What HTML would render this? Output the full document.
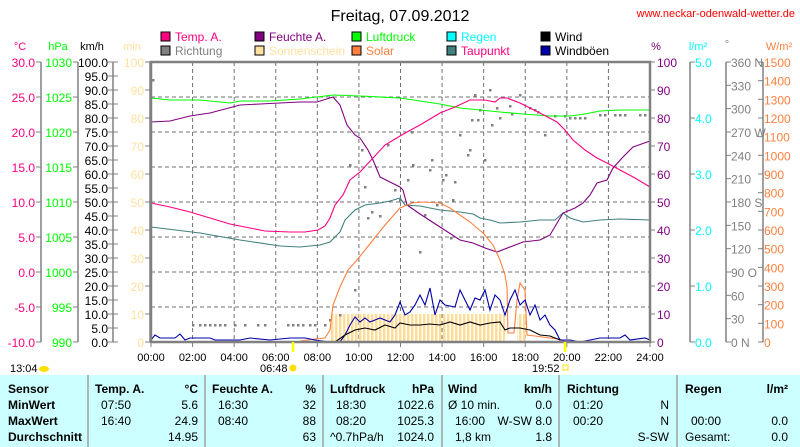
<!DOCTYPE html>
<html><head><meta charset="utf-8"><style>
html,body{margin:0;padding:0;background:#fff;}
svg{display:block;font-family:"Liberation Sans",sans-serif;}
</style></head><body>
<svg id="s" width="800" height="447" viewBox="0 0 800 447" xmlns="http://www.w3.org/2000/svg">
<defs>
<pattern id="sun" x="331" y="0" width="4" height="10" patternUnits="userSpaceOnUse"><rect x="0" y="0" width="2.5" height="10" fill="#ffdc98"/></pattern>
</defs>
<text x="400" y="21" font-size="16" text-anchor="middle" fill="#000">Freitag, 07.09.2012</text>
<text x="795" y="17" font-size="11" text-anchor="end" fill="#ff0000">www.neckar-odenwald-wetter.de</text>
<g id="g"></g>
</svg>
<script>
const S='http://www.w3.org/2000/svg',G=document.getElementById('g');
function el(t,a,txt){const e=document.createElementNS(S,t);for(const k in a)e.setAttribute(k,a[k]);if(txt!==undefined)e.textContent=txt;G.appendChild(e);return e;}
function line(x1,y1,x2,y2,c,w,d){el('line',{x1,y1,x2,y2,stroke:c,'stroke-width':w||1,'stroke-dasharray':d||'none'});}
function txt(x,y,s,c,anc,fs,fw){el('text',{x,y,fill:c,'font-size':fs||12,'text-anchor':anc||'start','font-weight':fw||'normal'},s);}
const T=62,B=342,L=151,R=650;
for(let i=1;i<8;i++){let y=T+i*35;line(L,y,R,y,'#707070',1,'4 3');}
for(let i=1;i<12;i++){let x=L+i*(R-L)/12;line(x,T,x,B,'#707070',1,'4 3');}
el('rect',{x:331,y:314,width:174,height:28,fill:'url(#sun)'});
el('rect',{x:517,y:314,width:10,height:28,fill:'url(#sun)'});
const dots=[[153,80],[193,325],[200,325],[205,325],[210,325],[215,325],[220,325],[225,325],[235,325],[245,325],[258,325],[265,325],[288,325],[293,325],[298,325],[303,325],[310,325],[315,325],[325,325],[330,320],[340,315],[355,290],[365,187],[368,218],[380,216],[372,212],[395,190],[400,200],[420,252],[425,215],[430,170],[432,160],[437,205],[443,180],[446,175],[455,182],[460,135],[468,155],[470,150],[478,120],[472,120],[475,95],[480,110],[485,160],[490,90],[492,125],[497,108],[500,118],[510,106],[512,114],[520,95],[530,108],[535,110],[538,112],[545,135],[555,116],[565,116],[570,118],[575,118],[580,118],[585,118],[600,115],[605,115],[615,115],[620,115],[625,115],[640,115],[645,115],[350,165],[362,150],[388,145],[412,132],[408,180],[413,165],[451,238],[453,200]];
dots.forEach(p=>el('rect',{x:p[0]-1,y:p[1]-1,width:2.5,height:2.5,fill:'#808080'}));
function pl(pts,c,w){el('polyline',{points:pts.map(p=>p.join(',')).join(' '),fill:'none',stroke:c,'stroke-width':w||1.1});}
pl([[151,227],[200,233],[240,240],[280,246],[300,247],[320,245],[330,242],[340,232],[345,220],[355,210],[365,205],[380,203],[390,201],[400,198],[405,205],[420,206],[440,210],[460,212],[473,214],[480,218],[490,220],[500,223],[520,222],[540,220],[555,220],[563,213],[570,218],[583,222],[600,220],[620,219],[650,220]],'#408080');
pl([[151,98],[170,100],[200,100],[230,103],[240,101],[270,101],[300,99],[317,97],[333,95],[360,96],[400,98],[420,101],[440,104],[460,108],[480,110],[500,112],[523,114],[550,116],[570,116],[585,114],[600,111],[620,110],[650,110]],'#00ff00');
pl([[151,122],[170,121],[190,116],[210,113],[240,105],[260,104],[280,103],[300,102],[317,102],[333,97],[340,105],[347,125],[355,135],[360,138],[368,150],[373,160],[380,177],[390,182],[400,187],[403,190],[407,205],[420,214],[440,227],[460,240],[473,243],[485,248],[497,252],[510,247],[523,242],[540,240],[550,235],[563,213],[575,208],[583,203],[590,195],[597,183],[607,180],[613,168],[623,157],[633,147],[650,141]],'#800080');
pl([[151,203],[170,207],[190,212],[210,218],[230,224],[250,228],[265,231],[290,232],[305,232],[318,230],[325,226],[330,218],[335,205],[343,195],[350,180],[360,172],[373,158],[385,145],[400,136],[407,132],[420,125],[440,113],[455,107],[470,100],[485,100],[495,102],[500,98],[507,98],[520,103],[540,113],[557,122],[565,130],[573,140],[585,150],[597,158],[607,163],[620,170],[635,178],[650,187]],'#ff0080');
pl([[300,341],[315,339],[325,338],[330,330],[333,305],[340,287],[348,270],[357,260],[365,250],[373,240],[385,225],[400,208],[412,203],[423,202],[440,203],[450,208],[457,213],[470,222],[483,233],[493,245],[500,260],[505,275],[507,287],[508,333],[514,333],[517,300],[520,283],[525,290],[527,335],[535,336],[550,338],[560,339],[565,342]],'#ff8040');
pl([[151,340],[155,335],[160,338],[175,338],[180,334],[185,340],[190,338],[210,338],[215,340],[240,340],[250,338],[270,340],[290,338],[305,338],[315,340],[330,342],[340,342],[345,335],[350,325],[355,317],[360,322],[365,318],[370,322],[380,318],[390,322],[395,315],[400,302],[405,315],[410,312],[415,305],[420,295],[425,305],[430,288],[435,315],[440,300],[445,305],[455,307],[460,290],[470,310],[475,298],[480,300],[485,290],[490,310],[495,295],[500,300],[505,315],[510,300],[515,290],[520,305],[525,300],[530,315],[535,305],[540,320],[545,315],[550,325],[555,330],[560,340],[570,340],[580,342],[600,338],[620,338],[625,335],[630,340],[645,338],[650,340]],'#0000aa');
pl([[335,342],[345,335],[355,330],[365,328],[375,330],[385,325],[395,328],[400,323],[410,325],[420,325],[430,324],[440,325],[450,322],[460,325],[470,322],[480,325],[490,323],[500,322],[505,330],[510,328],[520,328],[530,330],[540,335],[550,336],[560,340]],'#000');
el('rect',{x:L,y:T,width:R-L,height:B-T,fill:'none',stroke:'#808080','stroke-width':2.5});
for(let i=0;i<=12;i++){let x=L+i*(R-L)/12;line(x,B,x,B+5,'#808080');txt(x,361,String(i*2).padStart(2,'0')+':00','#000','middle',11);}
line(293,B,293,352,'#ffff00',2.5);line(565,B,565,352,'#ffff00',2.5);
txt(10,372,'13:04','#000','start',11);el('ellipse',{cx:44,cy:369,rx:5,ry:3,fill:'#ffe000'});
txt(260,372,'06:48','#000','start',11);el('circle',{cx:293,cy:368,r:3.5,fill:'#ffe000'});
txt(532,372,'19:52','#000','start',11);el('rect',{x:563,y:365,width:5,height:5,fill:'none',stroke:'#ffe000'});
const ax=[[41,'#ff0080',8,i=>(30-5*i).toFixed(1),37],[78,'#00ff00',8,i=>String(1030-5*i),74],[113,'#000',20,i=>(100-5*i).toFixed(1),110],[150,'#ffe0a0',10,i=>String(100-10*i),146]];
ax.forEach(a=>{line(a[0],T,a[0],B,'#808080',1.5);for(let i=0;i<=a[2];i++){let y=T+i*(B-T)/a[2];line(a[0]-5,y,a[0],y,'#808080');if(a[0]==113)line(113,y,118,y,'#808080');txt(a[4]-2,y+5,a[3](i),a[1],'end',12);}});
txt(20,50,'°C','#ff0080','middle',11);txt(58,50,'hPa','#00ff00','middle',11);txt(92,50,'km/h','#000','middle',11);txt(132,50,'min','#ffe0a0','middle',11);
for(let i=0;i<=10;i++){let y=T+i*28;line(R,y,R+5,y,'#808080');txt(657,y+5,String(100-10*i),'#800080','start',12);}
line(690,T,690,B,'#808080',1.5);for(let i=0;i<=5;i++){let y=T+i*56;line(690,y,695,y,'#808080');txt(695,y+5,(5-i).toFixed(1),'#00ffff','start',12);}
line(726,T,726,B,'#808080',1.5);const dl={0:' N',3:' W',6:' S',9:' O',12:' N'};for(let i=0;i<=12;i++){let y=T+i*(B-T)/12;line(726,y,731,y,'#808080');txt(731,y+5,String(360-30*i)+(dl[i]||''),'#808080','start',12);}
line(763,T,763,B,'#808080',1.5);for(let i=0;i<=15;i++){let y=T+i*(B-T)/15;line(758,y,763,y,'#808080');txt(764,y+5,String(1500-100*i),'#ff8040','start',12);}
txt(656,50,'%','#800080','middle',11);txt(698,50,'l/m²','#00ffff','middle',11);txt(727,48,'°','#808080','middle',11);txt(779,50,'W/m²','#ff8040','middle',11);
const lg=[[161,37,'#ff0080','Temp. A.','#ff0080'],[255,37,'#800080','Feuchte A.','#800080'],[352,37,'#00ff00','Luftdruck','#00ff00'],[447,37,'#00ffff','Regen','#00ffff'],[541,37,'#000','Wind','#000'],[161,51,'#808080','Richtung','#808080'],[255,51,'#ffe0a0','Sonnenschein','#ffe0a0'],[352,51,'#ff8040','Solar','#ff8040'],[447,51,'#408080','Taupunkt','#ff0080'],[541,51,'#0000aa','Windböen','#000']];
lg.forEach(l=>{el('rect',{x:l[0],y:l[1]-5,width:9,height:9,fill:l[2],stroke:'#000','stroke-width':1});txt(l[0]+14,l[1]+4,l[3],l[4],'start',12);});
el('rect',{x:0,y:375,width:800,height:72,fill:'#ccffff'});
[88,205,323,442,559,677].forEach(x=>line(x,375,x,447,'#a0a0a0',1.5));
const ry=[393,409,425,441];
function b(x,y,s,anc){txt(x,y,s,'#000',anc||'start',12,'bold');}
function n(x,y,s,anc){txt(x,y,s,'#000',anc||'start',12);}
['Sensor','MinWert','MaxWert','Durchschnitt'].forEach((s,i)=>b(8,ry[i],s));
b(95,ry[0],'Temp. A.');b(198,ry[0],'°C','end');n(101,ry[1],'07:50');n(198,ry[1],'5.6','end');n(101,ry[2],'16:40');n(198,ry[2],'24.9','end');n(198,ry[3],'14.95','end');
b(212,ry[0],'Feuchte A.');b(316,ry[0],'%','end');n(218,ry[1],'16:30');n(316,ry[1],'32','end');n(218,ry[2],'08:40');n(316,ry[2],'88','end');n(316,ry[3],'63','end');
b(330,ry[0],'Luftdruck');b(434,ry[0],'hPa','end');n(336,ry[1],'18:30');n(434,ry[1],'1022.6','end');n(336,ry[2],'08:20');n(434,ry[2],'1025.3','end');n(330,ry[3],'^0.7hPa/h');n(434,ry[3],'1024.0','end');
b(448,ry[0],'Wind');b(552,ry[0],'km/h','end');n(448,ry[1],'Ø 10 min.');n(552,ry[1],'0.0','end');n(455,ry[2],'16:00');n(552,ry[2],'W-SW 8.0','end');n(455,ry[3],'1,8 km');n(552,ry[3],'1.8','end');
b(567,ry[0],'Richtung');n(573,ry[1],'01:20');n(669,ry[1],'N','end');n(573,ry[2],'00:20');n(669,ry[2],'N','end');n(669,ry[3],'S-SW','end');
b(685,ry[0],'Regen');b(788,ry[0],'l/m²','end');n(691,ry[2],'00:00');n(788,ry[2],'0.0','end');n(685,ry[3],'Gesamt:');n(788,ry[3],'0.0','end');
</script>
</body></html>
